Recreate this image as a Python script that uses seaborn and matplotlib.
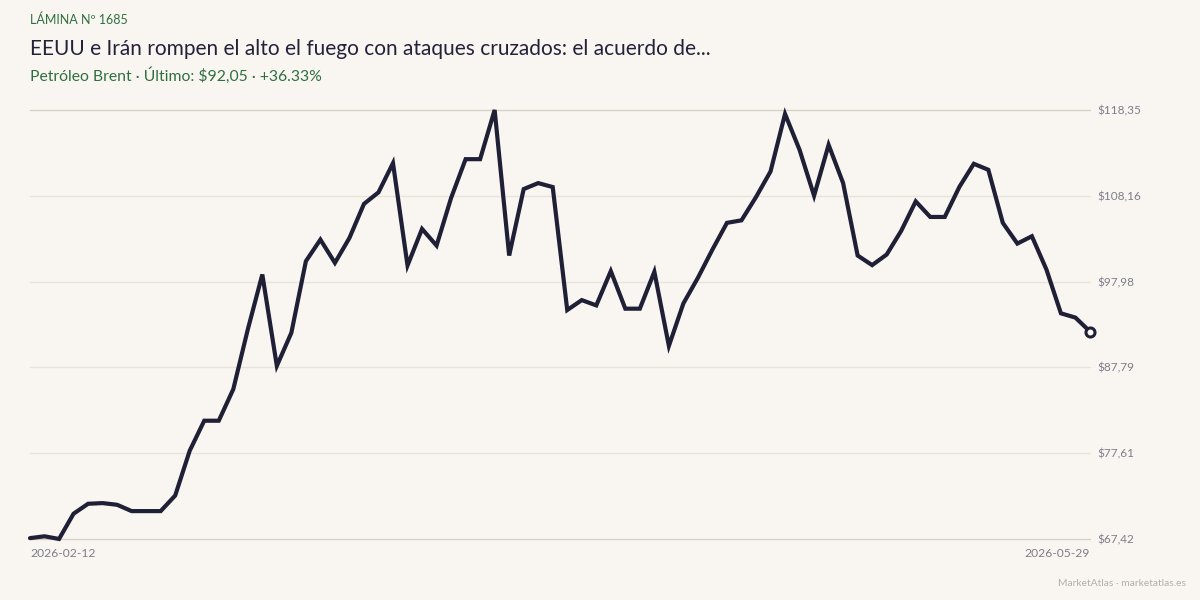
import numpy as np
import pandas as pd
import seaborn as sns
import matplotlib.pyplot as plt

# Brent daily closes
prices = [67.52, 67.74, 67.42, 70.42, 71.60, 71.68, 71.48, 70.73, 70.73, 70.73,
          72.58, 77.90, 81.46, 81.46, 85.20, 92.30, 98.82, 87.97, 91.90, 100.40,
          102.96, 100.20, 103.16, 107.20, 108.57, 112.04, 99.89, 104.23, 102.25, 107.90,
          112.51, 112.51, 118.35, 101.07, 108.96, 109.67, 109.20, 94.60, 95.78, 95.15,
          99.22, 94.76, 94.76, 99.14, 90.34, 95.39, 98.43, 101.78, 104.95, 105.25,
          108.01, 111.05, 117.88, 113.62, 108.17, 114.21, 109.67, 101.07, 99.93, 101.19,
          104.00, 107.50, 105.65, 105.65, 109.20, 111.96, 111.25, 104.94, 102.49, 103.36,
          99.42, 94.21, 93.70, 92.05]
date_first = '2026-02-12'
date_last = '2026-05-29'

kicker = 'LÁMINA Nº 1685'
title = 'EEUU e Irán rompen el alto el fuego con ataques cruzados: el acuerdo de...'
subtitle = 'Petróleo Brent · Último: $92,05 · +36.33%'
footer = 'MarketAtlas · marketatlas.es'

bg = '#f9f6f1'
ink = '#1f1f35'
green = '#2f6f3e'
grey = '#7d7d8a'

df = pd.DataFrame({'idx': np.arange(len(prices)), 'price': prices})
lo, hi = min(prices), max(prices)

sns.set_theme(style='white')
plt.rcParams['font.family'] = ['Lato', 'DejaVu Sans']

fig = plt.figure(figsize=(12, 6), dpi=100, facecolor=bg)
ax = fig.add_axes([0.025, 0.1017, 0.8833, 0.715])
ax.set_facecolor(bg)

# grid lines at six even steps between min and max
yticks = np.linspace(lo, hi, 6)
for i, t in enumerate(yticks):
    ax.axhline(t, color='#d6d0c6' if i in (0, 5) else '#e8e3db', linewidth=1,
               zorder=0, clip_on=False)

sns.lineplot(data=df, x='idx', y='price', ax=ax, color=ink, linewidth=3.0,
             solid_joinstyle='miter', clip_on=False, zorder=3)
ax.plot(df.idx.iloc[-1], df.price.iloc[-1], marker='o', markersize=6.5,
        markerfacecolor='white', markeredgecolor=ink, markeredgewidth=2.2,
        clip_on=False, zorder=4)

ax.set_xlim(0, len(prices) - 1)
ax.set_ylim(lo, hi)
ax.set_xlabel('')
ax.set_ylabel('')
for s in ax.spines.values():
    s.set_visible(False)

ax.yaxis.tick_right()
ax.set_yticks(yticks)
ax.set_yticklabels(['$' + f'{t:.2f}'.replace('.', ',') for t in yticks],
                   fontsize=8.5, color=grey)
ax.tick_params(axis='y', length=0, pad=5)
ax.set_xticks([])

ax.text(0, -0.022, date_first, transform=ax.transAxes, ha='left', va='top',
        fontsize=8.7, color=grey)
ax.text(1, -0.022, date_last, transform=ax.transAxes, ha='right', va='top',
        fontsize=8.7, color=grey)

fig.text(30 / 1200, 1 - 20 / 600, kicker, ha='left', va='center', fontsize=9, color=green)
fig.text(30 / 1200, 1 - 49 / 600, title, ha='left', va='center', fontsize=15, color='#22223a')
fig.text(30 / 1200, 1 - 76 / 600, subtitle, ha='left', va='center', fontsize=11.3, color=green)
fig.text(1186 / 1200, 1 - 583 / 600, footer, ha='right', va='center', fontsize=7.4, color='#b3afa8')

fig.savefig('out.png', dpi=100, facecolor=bg)
